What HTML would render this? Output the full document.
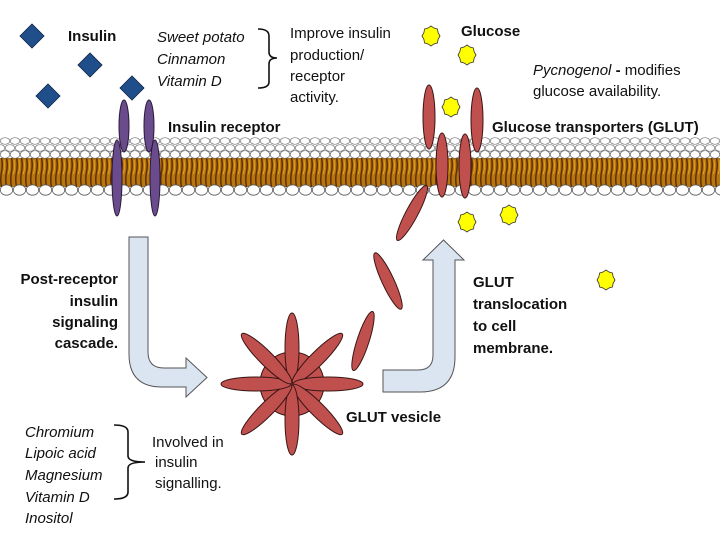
<!DOCTYPE html>
<html><head><meta charset="utf-8"><style>
html,body{margin:0;padding:0;background:#fff;}
svg{display:block;}
text{font-family:"Liberation Sans",sans-serif;font-size:15px;fill:#111;}
.b{font-weight:bold;}
.i{font-style:italic;}
</style></head><body>
<svg width="720" height="540" viewBox="0 0 720 540" xmlns="http://www.w3.org/2000/svg">
<defs>
<pattern id="h1" x="0" y="137" width="10" height="8" patternUnits="userSpaceOnUse">
<ellipse cx="5" cy="4" rx="4.8" ry="3.3" fill="#fff" stroke="#777" stroke-width="0.7"/></pattern>
<pattern id="h2" x="5" y="144" width="10" height="8" patternUnits="userSpaceOnUse">
<ellipse cx="5" cy="4" rx="4.8" ry="3.3" fill="#fff" stroke="#777" stroke-width="0.7"/></pattern>
<pattern id="h3" x="0" y="150" width="10" height="9" patternUnits="userSpaceOnUse">
<ellipse cx="5" cy="4.5" rx="4.8" ry="3.8" fill="#fff" stroke="#666" stroke-width="0.7"/></pattern>
<pattern id="tail" x="0" y="158" width="5" height="29" patternUnits="userSpaceOnUse">
<rect width="5" height="29" fill="#b8760e"/>
<path d="M1.5,0 Q3,7 1.5,14 Q0,21 1.5,29" stroke="#5e2f06" stroke-width="1.5" fill="none"/>
<path d="M4,2 Q5,10 3.5,16" stroke="#f0b020" stroke-width="0.7" fill="none"/>
</pattern>
<pattern id="h4" x="0" y="184" width="13" height="12" patternUnits="userSpaceOnUse">
<ellipse cx="6.5" cy="6" rx="6.2" ry="5.2" fill="#fff" stroke="#555" stroke-width="0.8"/></pattern>
<polygon id="glu" points="9,0 7.15,3.29 6.36,7.07 2.96,7.95 0,10 -2.96,7.95 -6.36,7.07 -7.15,3.29 -9,0 -7.15,-3.29 -6.36,-7.07 -2.96,-7.95 0,-10 2.96,-7.95 6.36,-7.07 7.15,-3.29" fill="#ffff00" stroke="#333" stroke-width="0.8"/>
<rect id="dia" x="-8.5" y="-8.5" width="17" height="17" fill="#1f4e8a" stroke="#0e2848" stroke-width="0.8" transform="rotate(45)"/>
</defs>

<rect x="0" y="137" width="720" height="8" fill="url(#h1)"/>
<rect x="0" y="144" width="720" height="8" fill="url(#h2)"/>
<rect x="0" y="158" width="720" height="29" fill="url(#tail)"/>
<rect x="0" y="150" width="720" height="9" fill="url(#h3)"/>
<rect x="0" y="184" width="720" height="12" fill="url(#h4)"/>

<use href="#dia" x="32" y="36"/>
<use href="#dia" x="90" y="65"/>
<use href="#dia" x="48" y="96"/>
<use href="#dia" x="132" y="88"/>

<g fill="#6a4c8c" stroke="#2a1a3a" stroke-width="1">
<ellipse cx="124" cy="126" rx="5" ry="26"/>
<ellipse cx="149" cy="126" rx="5" ry="26"/>
<ellipse cx="117" cy="178" rx="5" ry="38"/>
<ellipse cx="155" cy="178" rx="5" ry="38"/>
</g>

<g fill="#c0504d" stroke="#3a1515" stroke-width="1">
<ellipse cx="429" cy="117" rx="6" ry="32"/>
<ellipse cx="477" cy="120" rx="6" ry="32"/>
<ellipse cx="442" cy="165" rx="6" ry="32"/>
<ellipse cx="465" cy="166" rx="6" ry="32"/>
<ellipse cx="0" cy="0" rx="6" ry="31" transform="translate(412,213) rotate(28)"/>
<ellipse cx="0" cy="0" rx="6" ry="31" transform="translate(388,281) rotate(-25)"/>
<ellipse cx="0" cy="0" rx="6" ry="31" transform="translate(363,341) rotate(18)"/>
<circle cx="292" cy="384" r="32"/>
<g transform="translate(292,384)">
<ellipse cx="0" cy="-36" rx="7" ry="35"/>
<ellipse cx="0" cy="-36" rx="7" ry="35" transform="rotate(45)"/>
<ellipse cx="0" cy="-36" rx="7" ry="35" transform="rotate(90)"/>
<ellipse cx="0" cy="-36" rx="7" ry="35" transform="rotate(135)"/>
<ellipse cx="0" cy="-36" rx="7" ry="35" transform="rotate(180)"/>
<ellipse cx="0" cy="-36" rx="7" ry="35" transform="rotate(225)"/>
<ellipse cx="0" cy="-36" rx="7" ry="35" transform="rotate(270)"/>
<ellipse cx="0" cy="-36" rx="7" ry="35" transform="rotate(315)"/>
</g>
</g>

<use href="#glu" x="431" y="36"/>
<use href="#glu" x="467" y="55"/>
<use href="#glu" x="451" y="107"/>
<use href="#glu" x="467" y="222"/>
<use href="#glu" x="509" y="215"/>
<use href="#glu" x="606" y="280"/>

<path d="M129,237 H148 V352 Q148,368 164,368 H186 V358 L207,377.5 L186,397 V387 H162 Q129,387 129,354 Z" fill="#dbe5f1" stroke="#555" stroke-width="1"/>
<path d="M383,370 H418 Q433,370 433,355 V260 H423 L443.5,240 L464,260 H455 V357 Q455,392 420,392 H383 Z" fill="#dbe5f1" stroke="#555" stroke-width="1"/>

<path d="M258,29 Q269,29 269,36 V52 Q269,58 277,58 Q269,58 269,64 V82 Q269,88 258,88" fill="none" stroke="#111" stroke-width="1.6"/>
<path d="M114,425 Q128,425 128,432 V456 Q128,462 145,462 Q128,462 128,468 V492 Q128,499 114,499" fill="none" stroke="#111" stroke-width="1.6"/>

<text class="b" x="68" y="41">Insulin</text>
<text class="i" x="157" y="42">Sweet potato</text>
<text class="i" x="157" y="64">Cinnamon</text>
<text class="i" x="157" y="86">Vitamin D</text>
<text x="290" y="38">Improve insulin</text>
<text x="290" y="60">production/</text>
<text x="290" y="81">receptor</text>
<text x="290" y="102">activity.</text>
<text class="b" x="168" y="132">Insulin receptor</text>
<text class="b" x="461" y="36">Glucose</text>
<text x="533" y="75"><tspan class="i">Pycnogenol</tspan> <tspan class="b">-</tspan> modifies</text>
<text x="533" y="96">glucose availability.</text>
<text class="b" x="492" y="132">Glucose transporters (GLUT)</text>
<g text-anchor="end">
<text class="b" x="118" y="284">Post-receptor</text>
<text class="b" x="118" y="306">insulin</text>
<text class="b" x="118" y="327">signaling</text>
<text class="b" x="118" y="348">cascade.</text>
</g>
<text class="b" x="473" y="287">GLUT</text>
<text class="b" x="473" y="309">translocation</text>
<text class="b" x="473" y="331">to cell</text>
<text class="b" x="473" y="353">membrane.</text>
<text class="b" x="346" y="422">GLUT vesicle</text>
<text class="i" x="25" y="437">Chromium</text>
<text class="i" x="25" y="458">Lipoic acid</text>
<text class="i" x="25" y="480">Magnesium</text>
<text class="i" x="25" y="502">Vitamin D</text>
<text class="i" x="25" y="523">Inositol</text>
<text x="152" y="447">Involved in</text>
<text x="155" y="467">insulin</text>
<text x="155" y="488">signalling.</text>
</svg>
</body></html>
